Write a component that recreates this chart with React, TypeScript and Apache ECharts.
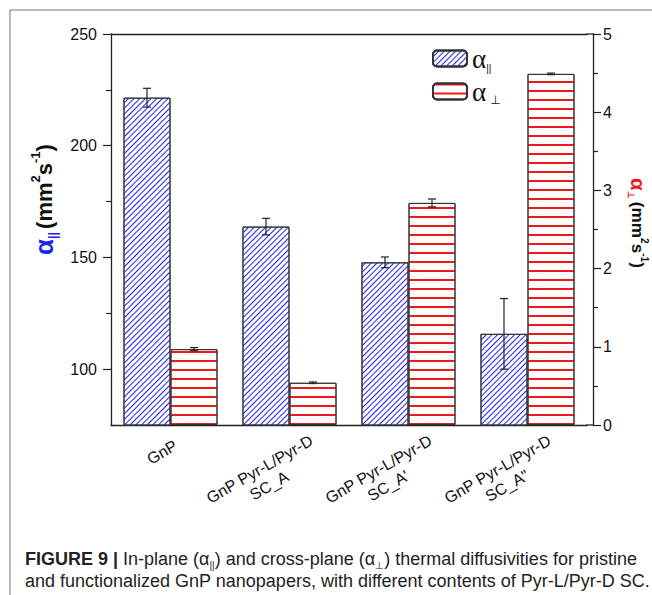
import React, { useEffect, useRef } from "react";
import * as echarts from "echarts";

const categories = ["GnP", "GnP Pyr-L/Pyr-D\nSC_A", "GnP Pyr-L/Pyr-D\nSC_A'", "GnP Pyr-L/Pyr-D\nSC_A\""];
const inPlane = [221.5, 163.8, 147.8, 115.8];
const inPlaneErr = [4.2, 3.7, 2.4, 15.8];
const crossPlane = [0.97, 0.54, 2.84, 4.49];
const crossPlaneErr = [0.02, 0.01, 0.05, 0.01];
const leftTicks = [100, 150, 200, 250];
const leftMinorTicks = [125, 175, 225];

const BAR_FRAC = 0.395;
const FONT = "'Liberation Sans', Arial, sans-serif";
const BLUE = "#2020f0";
const RED = "#f01818";
const AXIS = "#222";

export default function App() {
  const ref = useRef<HTMLDivElement>(null);
  useEffect(() => {
    if (!ref.current) return;
    const chart = echarts.init(ref.current, null, { renderer: "svg" });

    const errItem = (side: number) => (params: any, api: any) => {
      const idx = api.value(0);
      const v = api.value(1);
      const e = api.value(2);
      const w = api.size([1, 0])[0];
      const xOff = (side * w * BAR_FRAC) / 2;
      const top = api.coord([idx, v + e]);
      const bot = api.coord([idx, v - e]);
      const x = top[0] + xOff;
      const cap = 4;
      const st = { stroke: "#222", lineWidth: 1.2 };
      return {
        type: "group",
        children: [
          { type: "line", shape: { x1: x, y1: top[1], x2: x, y2: bot[1] }, style: st },
          { type: "line", shape: { x1: x - cap, y1: top[1], x2: x + cap, y2: top[1] }, style: st },
          { type: "line", shape: { x1: x - cap, y1: bot[1], x2: x + cap, y2: bot[1] }, style: st },
        ],
      };
    };

    const blueDecal = {
      symbol: "rect",
      symbolSize: 1,
      color: BLUE,
      dashArrayX: [1, 0],
      dashArrayY: [0.9, 2.7],
      rotation: -Math.PI / 4,
    };
    const redDecal = {
      symbol: "rect",
      symbolSize: 1,
      color: RED,
      dashArrayX: [1, 0],
      dashArrayY: [1.1, 6.6],
      rotation: 0,
    };

    const titleRich = (color: string, k: number) => ({
      a: { fontSize: 26 * k, fontWeight: "bold", color, fontFamily: FONT, lineHeight: 30 * k },
      s: { fontSize: 12 * k, fontWeight: "bold", color, fontFamily: FONT, verticalAlign: "bottom", lineHeight: 12 * k },
      b: { fontSize: 22 * k, fontWeight: "bold", color: "#111", fontFamily: FONT, lineHeight: 30 * k },
      p: { fontSize: 13 * k, fontWeight: "bold", color: "#111", fontFamily: FONT, verticalAlign: "top", lineHeight: 15 * k },
    });

    chart.setOption({
      animation: false,
      backgroundColor: "#fff",
      grid: {
        left: 111,
        right: 65,
        top: 34,
        bottom: 170,
        containLabel: false,
        outerBoundsMode: "none",
      },
      legend: {
        orient: "vertical",
        left: 427,
        top: 40,
        itemWidth: 34,
        itemHeight: 16,
        itemGap: 5,
        data: ["inPlane", "crossPlane"],
        formatter: (name: string) => (name === "inPlane" ? "{a|α}{s|||}" : "{a|α}{t|⊥}"),
        textStyle: {
          rich: {
            a: { fontSize: 27, fontFamily: "'Liberation Serif', serif", color: "#111", lineHeight: 29 },
            s: { fontSize: 10, color: "#111", fontFamily: FONT, verticalAlign: "bottom", lineHeight: 10 },
            t: { fontSize: 12, color: "#111", fontFamily: "'DejaVu Sans', sans-serif", verticalAlign: "bottom", lineHeight: 10, padding: [0, 0, 0, 4] },
          },
        },
      },
      xAxis: [
        {
          type: "category",
          data: categories,
          axisLine: { lineStyle: { color: AXIS, width: 1.3 } },
          axisTick: { show: false },
          axisLabel: {
            rotate: 30,
            interval: 0,
            margin: 16,
            align: "right",
            verticalAlign: "top",
            padding: [0, -20, 0, 0],
            fontFamily: FONT,
            fontSize: 16,
            color: "#111",
            formatter: (v: string) => {
              const lines = v.split("\n");
              if (lines.length === 1) return "{g|" + v + "}";
              return lines.map((l) => "{c|" + l + "}").join("\n");
            },
            rich: {
              g: { fontSize: 16, fontFamily: FONT, color: "#111", padding: [-8, 17, 0, 0], lineHeight: 19 },
              c: { fontSize: 16, fontFamily: FONT, color: "#111", align: "center", lineHeight: 19 },
            },
          },
          splitLine: { show: false },
        },
        {
          type: "category",
          data: categories,
          position: "top",
          axisLine: { show: true, lineStyle: { color: AXIS, width: 1.3 } },
          axisTick: { show: false },
          axisLabel: { show: false },
          splitLine: { show: false },
        },
      ],
      yAxis: [
        {
          type: "value",
          position: "left",
          min: 75,
          max: 250,
          axisLine: { show: true, lineStyle: { color: AXIS, width: 1.3 } },
          axisTick: { show: true, length: 8, customValues: leftTicks, lineStyle: { color: AXIS, width: 1.2 } },
          axisLabel: { customValues: leftTicks, margin: 14, fontSize: 16, fontFamily: FONT, color: "#111" },
          splitLine: { show: false },
          nameLocation: "middle",
          nameGap: 52,
          nameMoveOverlap: false,
          nameRotate: 90,
          name: "{a|α}{s|||} {b|(mm}{p|2}{b|s}{p|-1}{b|)}",
          nameTextStyle: { rich: titleRich(BLUE, 1), padding: [0, 0, 0, 60] },
        },
        {
          type: "value",
          position: "right",
          offset: 6,
          min: 0,
          max: 5,
          interval: 1,
          axisLine: { show: true, lineStyle: { color: AXIS, width: 1.3 } },
          axisTick: { show: true, length: 8, lineStyle: { color: AXIS, width: 1.2 } },
          minorTick: { show: true, splitNumber: 2, length: 5, lineStyle: { color: AXIS, width: 1.2 } },
          axisLabel: { margin: 10, fontSize: 16, fontFamily: FONT, color: "#111" },
          splitLine: { show: false },
          minorSplitLine: { show: false },
          nameLocation: "middle",
          nameGap: 33,
          nameMoveOverlap: false,
          nameRotate: -90,
          name: "{a|α}{s|⊥} {b|(mm}{p|2}{b|s}{p|-1}{b|)}",
          nameTextStyle: { rich: titleRich(RED, 0.78), padding: [0, 13, 0, 0] },
        },
        {
          type: "value",
          position: "left",
          min: 75,
          max: 250,
          axisLine: { show: false },
          axisTick: { show: true, length: 5, customValues: leftMinorTicks, lineStyle: { color: AXIS, width: 1.2 } },
          axisLabel: { show: false },
          splitLine: { show: false },
        },
      ],
      series: [
        {
          name: "inPlane",
          type: "bar",
          yAxisIndex: 0,
          data: inPlane,
          barWidth: BAR_FRAC * 100 + "%",
          barGap: "0%",
          itemStyle: { color: "#fff", borderColor: "#333", borderWidth: 1, decal: blueDecal },
        },
        {
          name: "crossPlane",
          type: "bar",
          yAxisIndex: 1,
          data: crossPlane,
          barWidth: BAR_FRAC * 100 + "%",
          barGap: "0%",
          itemStyle: { color: "#fff", borderColor: "#333", borderWidth: 1, decal: redDecal },
        },
        {
          type: "custom",
          yAxisIndex: 0,
          renderItem: errItem(-1),
          data: inPlane.map((v, i) => [i, v, inPlaneErr[i]]),
          z: 10,
          silent: true,
        },
        {
          type: "custom",
          yAxisIndex: 1,
          renderItem: errItem(1),
          data: crossPlane.map((v, i) => [i, v, crossPlaneErr[i]]),
          z: 10,
          silent: true,
        },
      ],
      graphic: [
        { type: "line", shape: { x1: 10, y1: 10, x2: 652, y2: 10 }, style: { stroke: "#777", lineWidth: 1 } },
        { type: "line", shape: { x1: 10, y1: 10, x2: 10, y2: 595 }, style: { stroke: "#777", lineWidth: 1 } },
        { type: "line", shape: { x1: 586, y1: 34, x2: 593.6, y2: 34 }, style: { stroke: AXIS, lineWidth: 1.3 } },
        { type: "line", shape: { x1: 586, y1: 425, x2: 593.6, y2: 425 }, style: { stroke: AXIS, lineWidth: 1.3 } },
        {
          type: "text",
          left: 25,
          top: 550,
          style: {
            text:
              "{b|FIGURE 9 | }{n|In-plane (α}{s|||}{n|) and cross-plane (α}{s|⊥}{n|) thermal diffusivities for pristine}\n{n|and functionalized GnP nanopapers, with different contents of Pyr-L/Pyr-D SC.}",
            rich: {
              b: { fontSize: 18, fontWeight: "bold", fontFamily: FONT, fill: "#222", lineHeight: 22 },
              n: { fontSize: 18, fontFamily: FONT, fill: "#222", lineHeight: 22 },
              s: { fontSize: 10, fontFamily: FONT, fill: "#222", verticalAlign: "bottom", lineHeight: 12 },
            },
          },
        },
      ],
    });
    return () => chart.dispose();
  }, []);
  return <div ref={ref} style={{ position: "fixed", left: 0, top: 0, width: 652, height: 595 }} />;
}
